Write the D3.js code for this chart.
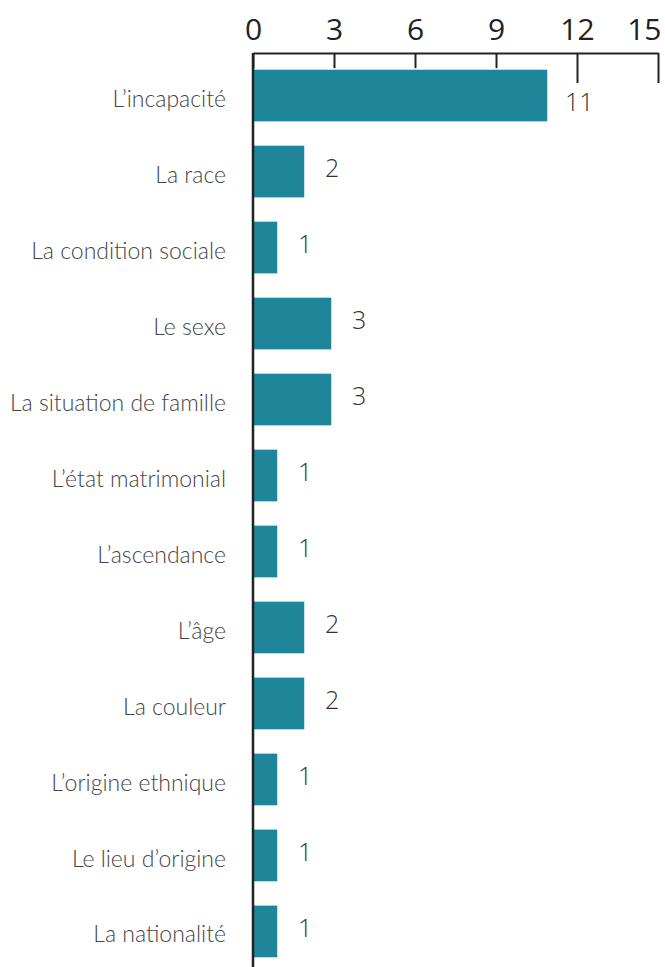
<!DOCTYPE html>
<html>
<head>
<meta charset="utf-8">
<script src="https://cdn.jsdelivr.net/npm/d3@7"></script>
<style>
  body { margin: 0; background: #fff; }
  svg { display: block; }
  .cat { font-family: Lato, sans-serif; font-weight: 300; font-size: 23px; fill: #444; }
  .val { font-family: "Open Sans", sans-serif; font-weight: 300; font-size: 25px; fill: #333; }
  .xaxis text { font-family: "Open Sans", sans-serif; font-size: 30px; fill: #222; }
  .xaxis line, .xaxis path { stroke: #222; stroke-width: 2; }
</style>
</head>
<body>
<script>
const WIDTH = 665;
const HEIGHT = 967;
const MARGIN_LEFT = 253;
const MARGIN_TOP = 53;
const INNER_WIDTH = 405;

var categories = [
  "L\u2019incapacité", "La race", "La condition sociale", "Le sexe",
  "La situation de famille", "L\u2019état matrimonial", "L\u2019ascendance",
  "L\u2019âge", "La couleur", "L\u2019origine ethnique", "Le lieu d\u2019origine",
  "La nationalité"
];
var values = [11, 2, 1, 3, 3, 1, 1, 2, 2, 1, 1, 1];
var tickValues = [0, 3, 6, 9, 12, 15];

var _xScale, _yScale;

var createSvg = function(){
  d3.select('body').append('svg')
    .attr('width', WIDTH)
    .attr('height', HEIGHT);

  _xScale = d3.scaleLinear().domain([0, 15]).range([0, INNER_WIDTH]);
  _yScale = d3.scaleBand().domain(categories).range([0, 921])
    .paddingInner(0.3).paddingOuter(0.21);

  var xAxis = d3.axisTop(_xScale).tickValues(tickValues)
    .tickSizeInner(-30).tickSizeOuter(0).tickPadding(13);
  var ax = d3.select('svg').append('g')
    .classed('xaxis', true)
    .attr('transform', 'translate(' + MARGIN_LEFT + ',' + MARGIN_TOP + ')')
    .call(xAxis);
  ax.selectAll('.tick text').filter(function(d){ return d === 15; })
    .attr('text-anchor', 'end').attr('x', 3);
  ax.select('.domain').attr('fill', 'none');
}

var drawBars = function(){
  var g = d3.select('svg').append('g')
    .attr('transform', 'translate(' + MARGIN_LEFT + ',' + MARGIN_TOP + ')');

  g.selectAll('rect').data(values).enter().append('rect')
    .attr('x', 0)
    .attr('y', function(d, i){ return _yScale(categories[i]); })
    .attr('width', function(d){ return _xScale(d) - 2; })
    .attr('height', _yScale.bandwidth())
    .attr('fill', '#1f8599')
    .attr('stroke', '#fff')
    .attr('stroke-width', 1.5);

  // the long value sits under the 12 tick, so it is pushed down a little
  g.selectAll('text.val').data(values).enter().append('text')
    .classed('val', true)
    .attr('x', function(d){ return _xScale(d) + (d > 9 ? 15 : 18); })
    .attr('y', function(d, i){
      return _yScale(categories[i]) + _yScale.bandwidth() / 2 + (d > 9 ? 7 : -3);
    })
    .attr('dy', '0.35em')
    .text(function(d){ return d; });

  g.selectAll('text.cat').data(categories).enter().append('text')
    .classed('cat', true)
    .attr('x', -27)
    .attr('y', function(d){ return _yScale(d) + _yScale.bandwidth() / 2 + 3; })
    .attr('dy', '0.35em')
    .attr('text-anchor', 'end')
    .text(function(d){ return d; });

  g.append('line')
    .attr('x1', 0).attr('x2', 0)
    .attr('y1', 0).attr('y2', HEIGHT - MARGIN_TOP)
    .attr('stroke', '#222')
    .attr('stroke-width', 2.5);
}

window.onload = function(){
  createSvg();
  drawBars();
}
</script>
</body>
</html>
